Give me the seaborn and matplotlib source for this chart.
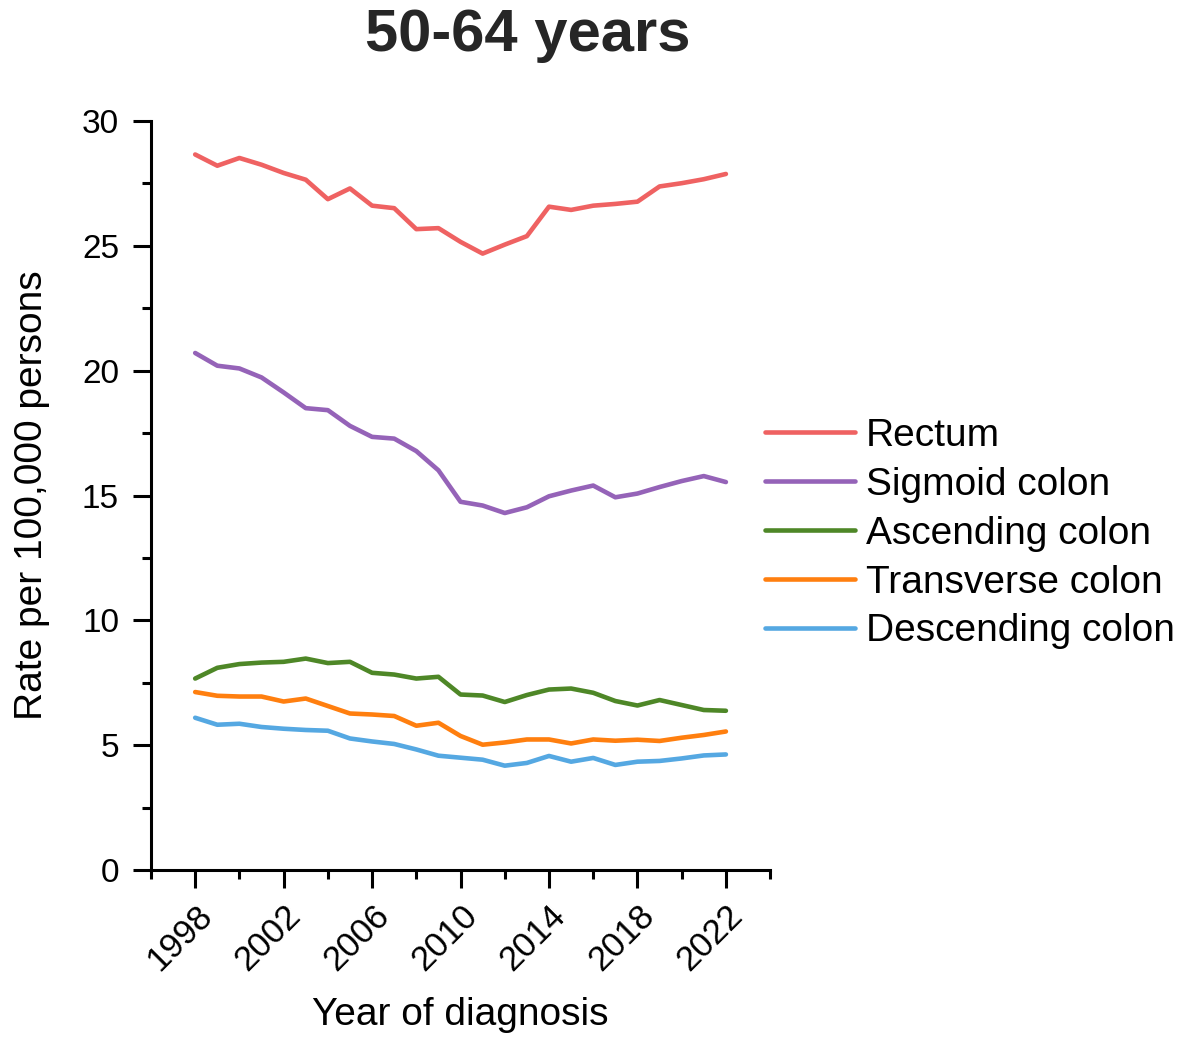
import numpy as np
import pandas as pd
import matplotlib
matplotlib.use("Agg")
import matplotlib.pyplot as plt
import seaborn as sns
from matplotlib.ticker import MultipleLocator

years = list(range(1998, 2023))
rectum = [28.66, 28.21, 28.52, 28.25, 27.92, 27.65, 26.87, 27.30, 26.61, 26.51,
          25.67, 25.71, 25.16, 24.69, 25.05, 25.39, 26.57, 26.44, 26.61, 26.68,
          26.77, 27.38, 27.51, 27.67, 27.88]
sigmoid = [20.71, 20.20, 20.09, 19.73, 19.13, 18.50, 18.42, 17.79, 17.35, 17.28,
           16.78, 16.01, 14.75, 14.60, 14.30, 14.53, 14.97, 15.20, 15.40, 14.93,
           15.08, 15.34, 15.58, 15.78, 15.54]
ascending = [7.67, 8.10, 8.25, 8.31, 8.34, 8.47, 8.29, 8.34, 7.90, 7.83,
             7.67, 7.74, 7.03, 6.99, 6.73, 7.01, 7.23, 7.27, 7.10, 6.77,
             6.59, 6.81, 6.61, 6.41, 6.38]
transverse = [7.13, 6.98, 6.95, 6.95, 6.75, 6.87, 6.57, 6.27, 6.23, 6.17,
              5.78, 5.90, 5.37, 5.02, 5.11, 5.23, 5.23, 5.07, 5.23, 5.18,
              5.22, 5.17, 5.30, 5.41, 5.55]
descending = [6.10, 5.82, 5.86, 5.73, 5.66, 5.61, 5.58, 5.27, 5.15, 5.05,
              4.83, 4.58, 4.50, 4.42, 4.18, 4.29, 4.57, 4.34, 4.49, 4.21,
              4.34, 4.37, 4.47, 4.59, 4.63]

sites = ["Rectum", "Sigmoid colon", "Ascending colon", "Transverse colon", "Descending colon"]
series = [rectum, sigmoid, ascending, transverse, descending]
colors = ["#EF6262", "#9563B8", "#4E8727", "#FF7F0F", "#55A8E2"]
major_years = list(range(1998, 2023, 4))
minor_years = list(range(1996, 2025, 4))

df = pd.DataFrame({
    "Year": years * len(sites),
    "Rate": [v for s in series for v in s],
    "Site": [name for name in sites for _ in years],
})

sns.set_theme(style="ticks")
plt.rcParams['font.family'] = ['Liberation Sans', 'DejaVu Sans']

fig = plt.figure(figsize=(11.83, 10.38), dpi=100)
ax = fig.add_axes([0.1276, 0.1618, 0.5234, 0.7216])

sns.lineplot(data=df, x="Year", y="Rate", hue="Site", hue_order=sites,
             palette=colors, linewidth=3.3, ax=ax, legend=True)

ax.set_xlim(1996, 2024)
ax.set_ylim(0, 30)
ax.xaxis.set_major_locator(plt.FixedLocator(major_years))
ax.xaxis.set_minor_locator(plt.FixedLocator(minor_years))
ax.yaxis.set_major_locator(MultipleLocator(5))
ax.yaxis.set_minor_locator(MultipleLocator(2.5))

for side in ["top", "right"]:
    ax.spines[side].set_visible(False)
for side in ["left", "bottom"]:
    ax.spines[side].set_linewidth(2.2)
    ax.spines[side].set_color("black")

ax.tick_params(axis="y", which="major", length=13, width=2.2, color="black",
               labelsize=24, labelcolor="black", direction="out", pad=10)
ax.tick_params(axis="x", which="major", length=13, width=2.2, color="black",
               labelsize=25, labelcolor="black", direction="out", pad=8)
ax.tick_params(axis="both", which="minor", length=6.5, width=2.2, color="black",
               direction="out")
plt.setp(ax.get_xticklabels(), rotation=45, ha="right", rotation_mode="anchor")
for lbl in ax.get_xticklabels():
    lbl.set_x(lbl.get_position()[0])

ax.set_xlabel("Year of diagnosis", fontsize=28, color="black")
ax.set_ylabel("Rate per 100,000 persons", fontsize=28, color="black")
ax.xaxis.set_label_coords(0.5, -0.170)
ax.yaxis.set_label_coords(-0.163, 0.5)

leg = ax.legend(loc="center left", bbox_to_anchor=(0.992, 0.449), frameon=False,
                fontsize=28, handlelength=2.3, handletextpad=0.28, labelspacing=0.33,
                borderaxespad=0, borderpad=0)
for line in leg.get_lines():
    line.set_linewidth(3.3)
for t in leg.get_texts():
    t.set_color("black")

fig.text(0.446, 0.966, "50-64 years", fontsize=43, fontweight="bold",
         color="#262626", ha="center", va="center")

fig.savefig("out.png", dpi=100, facecolor="white")
